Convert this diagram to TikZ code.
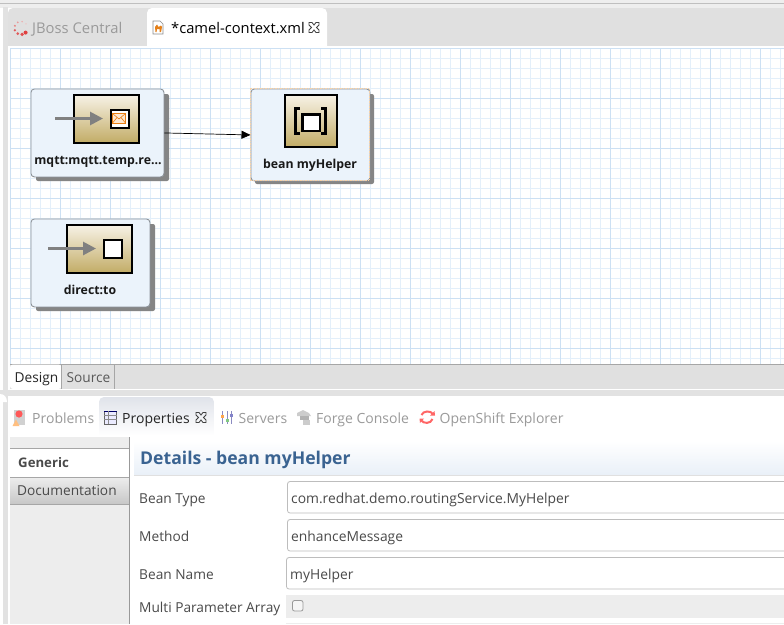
\documentclass[tikz,border=0pt]{standalone}
\usepackage{fontspec}
\setmainfont{Open Sans}
\usetikzlibrary{arrows.meta,shapes.geometric}
\definecolor{paneGrey}{HTML}{E0E0E0}
\definecolor{frameGrey}{HTML}{E2E2E2}
\definecolor{gridMinor}{HTML}{E3EFFA}
\definecolor{gridMajor}{HTML}{CCE0F3}
\definecolor{nodeFill}{HTML}{EBF3FB}
\definecolor{nodeLine}{HTML}{8C9299}
\definecolor{shadowGrey}{HTML}{858585}
\definecolor{goldLow}{HTML}{C2AC66}
\definecolor{goldHigh}{HTML}{F7F2E6}
\definecolor{dimText}{HTML}{9A9A9A}
\definecolor{bodyText}{HTML}{4A4A4A}
\definecolor{headBlue}{HTML}{3A6391}
\definecolor{headLow}{HTML}{E9F0F8}
\definecolor{sideGrey}{HTML}{EDEDED}
\definecolor{fieldLine}{HTML}{BDBDBD}
\definecolor{selOrange}{HTML}{F8D2A8}
\definecolor{tabTop}{HTML}{E0E3EA}
\tikzset{
  x=1pt,y=-1pt,
  camelnode/.style={draw=nodeLine,fill=nodeFill,rounded corners=3.5pt,line width=0.9pt,inner sep=0,anchor=north west},
  nodeshadow/.style={fill=shadowGrey,rounded corners=2pt},
  goldicon/.style={draw=black,line width=1.7pt,top color=goldHigh,bottom color=goldLow,inner sep=0,anchor=north west},
  whitebox/.style={draw=black,line width=1.8pt,fill=white,inner sep=0,anchor=north west},
  grayflow/.style={draw=black!50,line width=2.8pt,-{Triangle[length=13pt,width=13pt]}},
  caption/.style={font=\fontsize{12.3}{14}\selectfont\bfseries,text=black!90,inner sep=0,anchor=base},
  tabdim/.style={font=\fontsize{14}{16}\selectfont,text=dimText,inner sep=0,anchor=base west},
  tabtext/.style={font=\fontsize{14}{16}\selectfont,text=black!85,inner sep=0,anchor=base west},
  formlabel/.style={font=\fontsize{13.7}{15}\selectfont,text=bodyText,inner sep=0,anchor=base west},
  fieldtext/.style={font=\fontsize{13.85}{15}\selectfont,text=bodyText,inner sep=0,anchor=base west},
  fieldbox/.style={draw=fieldLine,fill=white,rounded corners=2.5pt,line width=0.8pt},
  closeicon/.style={draw=black!75,line width=0.8pt},
  conn/.style={draw=black,line width=0.7pt,-{Triangle[length=9pt,width=8pt]}}
}
\newcommand{\closeglyph}[2]{%
  \draw[closeicon] (#1-5,#2-5) -- (#1-2,#2-5) -- (#1,#2-2.5) -- (#1+2,#2-5) -- (#1+5,#2-5) -- (#1+5,#2-2.5) -- (#1+2.5,#2) -- (#1+5,#2+2.5) -- (#1+5,#2+5) -- (#1+2,#2+5) -- (#1,#2+2.5) -- (#1-2,#2+5) -- (#1-5,#2+5) -- (#1-5,#2+2.5) -- (#1-2.5,#2) -- (#1-5,#2-2.5) -- cycle;}
\begin{document}
\begin{tikzpicture}
\useasboundingbox (0,0) rectangle (784,624);
\fill[white] (0,0) rectangle (784,624);
% outer frame
\fill[frameGrey!60] (0,0) rectangle (784,8);
\draw[black!25,line width=1pt] (0,3.5) -- (784,3.5);
\fill[frameGrey] (3,7) rectangle (8,390);
\fill[frameGrey] (0,390) rectangle (784,396);
\fill[frameGrey] (3,396) rectangle (8,624);
\fill[white] (0,394) .. controls (4,394) and (7,397) .. (7,402) -- (0,402) -- cycle;
% editor tab strip
\fill[paneGrey,rounded corners=5pt] (8,8) rectangle (800,60);
\fill[white] (8,46) rectangle (784,390);
\fill[white,rounded corners=5pt] (147,8) rectangle (327,60);
% spinner
\foreach \a/\r/\c in {200/1.3/E05A5A,240/1.5/E05A5A,280/1.8/E05050,315/2/E04040,160/1.1/E88080,120/1.0/E89A9A,80/0.9/EDB0B0,40/0.8/F0C0C0}{
  \definecolor{spin}{HTML}{\c}
  \fill[spin] ({21+6.5*cos(\a)},{28-6.5*sin(\a)}) circle (\r);
}
\node[tabdim,font=\fontsize{14.8}{16}\selectfont] (tabjboss) at (32,33) {JBoss Central};
% camel file icon
\fill[white,draw=black!45,line width=0.6pt] (153,21) -- (160,21) -- (163,24) -- (163,34) -- (153,34) -- cycle;
\fill[orange!60!brown] (155,27) -- (157,24.5) -- (158.5,27) -- (161,25.5) -- (162,27) -- (161,32) -- (159.5,32) -- (159.5,29) -- (157,29) -- (156.5,32) -- (155.5,32) -- cycle;
\node[tabtext,text=black,font=\fontsize{14.7}{16}\selectfont] (tabcamel) at (171,33) {*camel-context.xml};
\closeglyph{314}{27.5}
% grid canvas
\begin{scope}
\clip (10,48) rectangle (784,364);
\foreach \x in {10,20,...,780} \draw[gridMinor,line width=0.7pt] (\x,48) -- (\x,364);
\foreach \y in {48,58,...,364} \draw[gridMinor,line width=0.7pt] (10,\y) -- (784,\y);
\foreach \x in {10,60,...,780} \draw[gridMajor,line width=0.8pt] (\x,48) -- (\x,364);
\foreach \y in {48,98,...,348} \draw[gridMajor,line width=0.8pt] (10,\y) -- (784,\y);
\end{scope}
% shadows
\fill[nodeshadow] (36,94) rectangle (169,181);
\fill[nodeshadow] (255,94) rectangle (374,184);
\fill[nodeshadow] (36,224) rectangle (155,311);
% nodes
\node[camelnode,minimum width=133pt,minimum height=88pt] (mqtt) at (30.5,88.5) {};
\node[camelnode,minimum width=119pt,minimum height=92pt] (bean) at (250.5,88.5) {};
\node[camelnode,minimum width=119pt,minimum height=88pt] (direct) at (30.5,218.5) {};
\draw[selOrange,line width=0.6pt,dash pattern=on 1.5pt off 1pt] (250,88) rectangle (369.5,180.5);
% mqtt icon
\node[goldicon,minimum width=65pt,minimum height=48pt] (mqtticon) at (73,94) {};
\node[whitebox,minimum width=18pt,minimum height=18pt] (mqttbox) at (110,109) {};
\fill[orange!18] (112.5,113.5) rectangle (125.5,123);
\draw[orange!70!brown,line width=0.7pt] (112.5,113.5) rectangle (125.5,123);
\draw[orange!70!brown,line width=0.6pt] (112.5,113.5) -- (119,119) -- (125.5,113.5);
\draw[orange!70!brown,line width=0.6pt] (112.5,123) -- (117,117.5) (125.5,123) -- (121,117.5);
\coordinate (mqttin) at (55,118.5);
\draw[grayflow] (mqttin) -- (103,118.5);
\node[caption] (mqttlabel) at (98,164) {mqtt:mqtt.temp.re...};
% bean icon
\node[goldicon,minimum width=52pt,minimum height=52pt] (beanicon) at (284,94) {};
\node[whitebox,line width=2.5pt,minimum width=17.4pt,minimum height=16.5pt] (beanbox) at (301.3,113) {};
\draw[black,line width=3pt] (299.5,108) -- (295.5,108) -- (295.5,133) -- (299.5,133);
\draw[black,line width=3pt] (321,108) -- (325,108) -- (325,133) -- (321,133);
\node[caption] (beanlabel) at (310,168) {bean myHelper};
% direct icon
\node[goldicon,minimum width=65pt,minimum height=48pt] (directicon) at (66,224) {};
\node[whitebox,minimum width=18pt,minimum height=18pt] (directbox) at (103,239) {};
\coordinate (directin) at (48,248.5);
\draw[grayflow] (directin) -- (96,248.5);
\node[caption] (directlabel) at (90,294) {direct:to};
% connector
\draw[conn] (mqtt.east) -- (bean.west);
% design/source tabs
\fill[paneGrey] (10,364) rectangle (784,389);
\draw[black!35,line width=0.8pt] (10,364.5) -- (784,364.5);
\fill[white,rounded corners=3pt] (10,364.5) rectangle (61.5,389);
\draw[black!35,line width=0.6pt] (61.5,364.5) -- (61.5,388.5);
\draw[black!35,line width=0.6pt] (114.5,364.5) -- (114.5,389);
\node[formlabel,text=black!85] (design) at (14.5,382) {Design};
\node[formlabel,text=black!65] (source) at (66.5,382) {Source};
% lower tabs
\begin{scope}
\clip[rounded corners=5pt] (99,397) rectangle (214,445);
\foreach \i in {0,...,38}{
  \pgfmathtruncatemacro{\mixv}{100-\i*2.6}
  \fill[tabTop!\mixv!white] (99,397+\i) rectangle (214,398.2+\i);
}
\end{scope}
\fill[black!18] (14,410) rectangle (25,425);
\fill[red!65!white] (19,414) circle (3.6);
\fill[orange!50] (12.5,426) -- (16,419.5) -- (19.5,426) -- cycle;
\node[tabdim] (tproblems) at (32,423) {Problems};
\draw[black!60,fill=blue!8,line width=0.8pt] (104,411) rectangle (116.5,424);
\draw[blue!40!black,line width=1.4pt] (104,411.5) -- (116.5,411.5);
\draw[black!45,line width=0.5pt] (104,415.5) -- (116.5,415.5) (104,419.5) -- (116.5,419.5) (108,411) -- (108,424);
\node[tabtext] (tproperties) at (122,423) {Properties};
\closeglyph{201}{417.5}
\draw[blue!30!gray!70,line width=0.7pt] (222.5,411) -- (222.5,424) (227,411) -- (227,424) (231,411) -- (231,424);
\fill[orange!70] (221,415) rectangle (224,418);
\fill[green!40!gray!70] (225.5,419) rectangle (228.5,422);
\fill[blue!40!gray!70] (229.5,414) rectangle (232.5,417);
\node[tabdim] (tservers) at (238.5,423) {Servers};
\fill[black!20] (297,413) -- (303,410) -- (309,413) -- (311,416) -- (297,416) -- cycle;
\fill[black!30] (300,416) rectangle (309,420);
\fill[black!20] (303,420) rectangle (310,425);
\node[tabdim] (tforge) at (316,423) {Forge Console};
\draw[red!60!white,line width=2pt] (421.5,415) .. controls (423,410.5) and (431,410.5) .. (433,414);
\draw[red!60!white,line width=2pt] (432.5,419) .. controls (431,424) and (423,424) .. (421,420);
\fill[red!60!white] (430,415.5) -- (435,415.5) -- (434.5,411) -- cycle;
\fill[red!60!white] (424,418.5) -- (419.5,418.5) -- (420,423) -- cycle;
\node[tabdim] (topenshift) at (439.5,423) {OpenShift Explorer};
% sidebar
\fill[sideGrey] (10,437) rectangle (129,448);
\fill[white] (10,448) rectangle (129,477);
\fill[top color=black!7,bottom color=black!22] (10,477) rectangle (129,504);
\fill[sideGrey] (10,504) rectangle (129,624);
\draw[black!40,line width=0.8pt] (129,437) -- (129,624);
\draw[black!35,line width=0.8pt] (10,448) -- (129,448) (10,477) -- (129,477) (10,504) -- (129,504);
\node[font=\fontsize{13.2}{15}\selectfont\bfseries,text=bodyText,inner sep=0,anchor=base west] (sgeneric) at (18,467) {Generic};
\node[formlabel] (sdoc) at (17,495.5) {Documentation};
% details header
\fill[top color=white,bottom color=headLow] (134,441) rectangle (784,475);
\draw[black!12,line width=0.6pt] (134,475.5) -- (784,475.5);
\node[font=\fontsize{17.6}{20}\selectfont\bfseries,text=headBlue,inner sep=0,anchor=base west] (dhead) at (140,464) {Details - bean myHelper};
% fields
\fill[sideGrey] (286,595) rectangle (784,618);
\fill[sideGrey] (286,623) rectangle (784,624);
\draw[fieldbox] (287.5,481.5) -- (790,481.5) -- (790,513) -- (287.5,513) -- cycle;
\draw[fieldbox] (287.5,519.5) -- (790,519.5) -- (790,551) -- (287.5,551) -- cycle;
\draw[fieldbox] (286.5,557.5) -- (790,557.5) -- (790,589) -- (286.5,589) -- cycle;
\node[formlabel] (lbeantype) at (139,503) {Bean Type};
\node[formlabel] (lmethod) at (139,541.5) {Method};
\node[formlabel] (lbeanname) at (139,579) {Bean Name};
\node[formlabel] (lmulti) at (139,612) {Multi Parameter Array};
\node[fieldtext] (fbeantype) at (291,503) {com.redhat.demo.routingService.MyHelper};
\node[fieldtext] (fmethod) at (291,541.5) {enhanceMessage};
\node[fieldtext] (fname) at (290,579) {myHelper};
\draw[black!40,fill=black!4,rounded corners=2pt,line width=0.8pt] (292.5,600.5) rectangle (303,611);
\end{tikzpicture}
\end{document}
